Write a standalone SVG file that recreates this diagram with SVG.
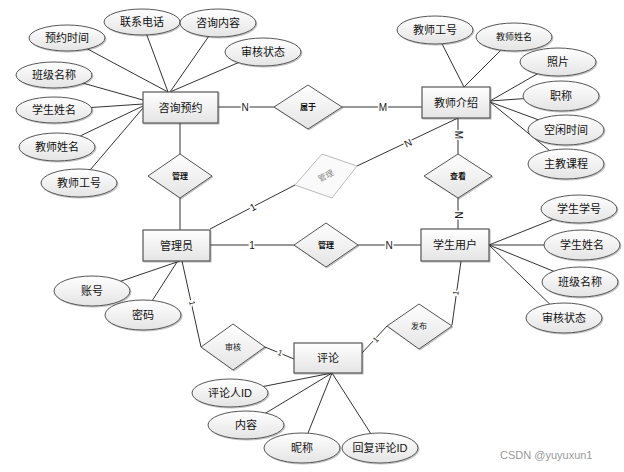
<svg xmlns="http://www.w3.org/2000/svg" width="624" height="472" viewBox="0 0 624 472">
<defs>
<linearGradient id="g" x1="0" y1="0" x2="0" y2="1">
<stop offset="0" stop-color="#ffffff"/>
<stop offset="1" stop-color="#e4e4e4"/>
</linearGradient>
<filter id="sh" x="-10%" y="-10%" width="130%" height="140%">
<feDropShadow dx="1" dy="1" stdDeviation="0.6" flood-color="#000" flood-opacity="0.25"/>
</filter>
</defs>
<style>
.e{fill:url(#g);stroke:#555;stroke-width:1;filter:url(#sh)}
.r{fill:url(#g);stroke:#555;stroke-width:1.2;filter:url(#sh)}
.d{fill:url(#g);stroke:#555;stroke-width:1;filter:url(#sh)}
.dg{fill:#fafafa;stroke:#bbb;stroke-width:1}
.l{stroke:#333;stroke-width:1;fill:none}
.t{font-family:"Liberation Sans","Noto Sans CJK SC",sans-serif;font-size:11px;fill:#111;text-anchor:middle;dominant-baseline:central}
.ts{font-family:"Liberation Sans","Noto Sans CJK SC",sans-serif;font-size:8px;fill:#111;text-anchor:middle;dominant-baseline:central;font-weight:bold}
.c{font-family:"Liberation Sans","Noto Sans CJK SC",sans-serif;font-size:10px;fill:#222;text-anchor:middle;dominant-baseline:central;stroke:#fff;stroke-width:3;paint-order:stroke}
.w{font-family:"Liberation Sans","Noto Sans CJK SC",sans-serif;font-size:11px;fill:#999}
</style>
<g id="connectors">
<line class="l" x1="67" y1="38" x2="168" y2="92"/>
<line class="l" x1="142" y1="22" x2="168" y2="92"/>
<line class="l" x1="218" y1="23" x2="170" y2="92"/>
<line class="l" x1="263" y1="52" x2="170" y2="92"/>
<line class="l" x1="54" y1="75" x2="143" y2="100"/>
<line class="l" x1="54" y1="110" x2="143" y2="104"/>
<line class="l" x1="57" y1="147" x2="143" y2="106"/>
<line class="l" x1="79" y1="183" x2="143" y2="108"/>
<line class="l" x1="218" y1="107" x2="274" y2="107"/>
<line class="l" x1="342" y1="107" x2="422" y2="107"/>
<line class="l" x1="435" y1="30" x2="464" y2="87"/>
<line class="l" x1="514" y1="37" x2="464" y2="87"/>
<line class="l" x1="558" y1="62" x2="490" y2="101"/>
<line class="l" x1="561" y1="96" x2="490" y2="101"/>
<line class="l" x1="566" y1="130" x2="490" y2="102"/>
<line class="l" x1="566" y1="164" x2="490" y2="102"/>
<line class="l" x1="180" y1="123" x2="180" y2="154"/>
<line class="l" x1="180" y1="198" x2="180" y2="230"/>
<line class="l" x1="458" y1="118" x2="458" y2="154"/>
<line class="l" x1="458" y1="198" x2="458" y2="229"/>
<line class="l" x1="210" y1="229" x2="295" y2="185"/>
<line class="l" x1="357" y1="166" x2="458" y2="118"/>
<line class="l" x1="210" y1="245" x2="294" y2="245"/>
<line class="l" x1="358" y1="245" x2="421" y2="245"/>
<line class="l" x1="579" y1="209" x2="489" y2="245"/>
<line class="l" x1="582" y1="245" x2="489" y2="245"/>
<line class="l" x1="580" y1="282" x2="489" y2="245"/>
<line class="l" x1="564" y1="318" x2="489" y2="245"/>
<line class="l" x1="92" y1="291" x2="180" y2="261"/>
<line class="l" x1="143" y1="315" x2="177" y2="262"/>
<line class="l" x1="182" y1="261" x2="201" y2="347"/>
<line class="l" x1="265" y1="347" x2="294" y2="359"/>
<line class="l" x1="461" y1="261" x2="452" y2="325"/>
<line class="l" x1="387" y1="326" x2="362" y2="353"/>
<line class="l" x1="230" y1="393" x2="332" y2="373"/>
<line class="l" x1="246" y1="425" x2="332" y2="373"/>
<line class="l" x1="302" y1="448" x2="332" y2="373"/>
<line class="l" x1="380" y1="448" x2="332" y2="373"/>
<text class="c" x="245" y="107">N</text>
<text class="c" x="383" y="107">M</text>
<text class="c" x="252" y="245">1</text>
<text class="c" x="389" y="245">N</text>
<text class="c" transform="translate(458,135) rotate(90)">M</text>
<text class="c" transform="translate(458,215) rotate(90)">N</text>
<text class="c" transform="translate(253,207) rotate(-27)">1</text>
<text class="c" transform="translate(408,143) rotate(-25)">N</text>
<text class="c" transform="translate(192,303) rotate(77)" style="font-size:8px">1</text>
<text class="c" transform="translate(280,353) rotate(22)" style="font-size:8px">1</text>
<text class="c" transform="translate(376,340) rotate(-47)" style="font-size:8px">1</text>
<text class="c" transform="translate(456,293) rotate(-82)" style="font-size:8px">1</text>
</g>
<g id="n-zixun"><rect class="r" x="143" y="92" width="75" height="31"/><text class="t" x="180.5" y="107.5">咨询预约</text></g>
<g id="n-jiaoshi"><rect class="r" x="422" y="87" width="68" height="31"/><text class="t" x="456" y="102.5">教师介绍</text></g>
<g id="n-guanliyuan"><rect class="r" x="143" y="230" width="67" height="31"/><text class="t" x="176.5" y="245.5">管理员</text></g>
<g id="n-xuesheng"><rect class="r" x="421" y="229" width="68" height="32"/><text class="t" x="455" y="245">学生用户</text></g>
<g id="n-pinglun"><rect class="r" x="294" y="343" width="68" height="30"/><text class="t" x="328" y="358">评论</text></g>
<g id="r-shuyu"><polygon class="d" points="274,107 308,85 342,107 308,129"/><text class="ts" x="308" y="107">属于</text></g>
<g id="r-guanli1"><polygon class="d" points="148,176 180,154 212,176 180,198"/><text class="ts" x="180" y="176">管理</text></g>
<g id="r-chakan"><polygon class="d" points="424,176 458,154 492,176 458,198"/><text class="ts" x="458" y="176">查看</text></g>
<g id="r-guanli2"><polygon class="dg" points="322,154 357,166 332,198 295,185"/><text class="ts" transform="translate(326,176) rotate(-28)" style="fill:#888;font-weight:normal">管理</text></g>
<g id="r-guanli3"><polygon class="d" points="294,245 326,223 358,245 326,267"/><text class="ts" x="326" y="245">管理</text></g>
<g id="r-shenhe"><polygon class="d" points="201,347 233,324 265,347 233,370"/><text class="ts" x="233" y="347" style="font-weight:normal">审核</text></g>
<g id="r-fabu"><polygon class="d" points="387,326 419,304 452,326 419,349"/><text class="ts" x="419" y="326" style="font-weight:normal">发布</text></g>
<g id="a-yuyueshijian"><ellipse class="e" cx="67" cy="38" rx="38" ry="13"/><text class="t" x="67" y="38">预约时间</text></g>
<g id="a-lianxidianhua"><ellipse class="e" cx="142" cy="22" rx="38" ry="13"/><text class="t" x="142" y="22">联系电话</text></g>
<g id="a-zixunneirong"><ellipse class="e" cx="218" cy="23" rx="38" ry="14"/><text class="t" x="218" y="23">咨询内容</text></g>
<g id="a-shenhezhuangtai1"><ellipse class="e" cx="263" cy="52" rx="38" ry="14"/><text class="t" x="263" y="52">审核状态</text></g>
<g id="a-banjimingcheng1"><ellipse class="e" cx="54" cy="75" rx="38" ry="13"/><text class="t" x="54" y="75">班级名称</text></g>
<g id="a-xueshengxingming1"><ellipse class="e" cx="54" cy="110" rx="38" ry="13"/><text class="t" x="54" y="110">学生姓名</text></g>
<g id="a-jiaoshixingming1"><ellipse class="e" cx="57" cy="147" rx="38" ry="14"/><text class="t" x="57" y="147">教师姓名</text></g>
<g id="a-jiaoshigonghao1"><ellipse class="e" cx="79" cy="183" rx="38" ry="14"/><text class="t" x="79" y="183">教师工号</text></g>
<g id="a-jiaoshigonghao2"><ellipse class="e" cx="435" cy="30" rx="38" ry="14"/><text class="t" x="435" y="30">教师工号</text></g>
<g id="a-jiaoshixingming2"><ellipse class="e" cx="514" cy="37" rx="38" ry="14"/><text class="t" x="514" y="37" style="font-size:9px">教师姓名</text></g>
<g id="a-zhaopian"><ellipse class="e" cx="558" cy="62" rx="38" ry="14"/><text class="t" x="558" y="62">照片</text></g>
<g id="a-zhicheng"><ellipse class="e" cx="561" cy="96" rx="38" ry="15"/><text class="t" x="561" y="96">职称</text></g>
<g id="a-kongxianshijian"><ellipse class="e" cx="566" cy="130" rx="38" ry="15"/><text class="t" x="566" y="130">空闲时间</text></g>
<g id="a-zhujiaokecheng"><ellipse class="e" cx="566" cy="164" rx="38" ry="15"/><text class="t" x="566" y="164">主教课程</text></g>
<g id="a-xueshengxuehao"><ellipse class="e" cx="579" cy="209" rx="38" ry="14"/><text class="t" x="579" y="209">学生学号</text></g>
<g id="a-xueshengxingming2"><ellipse class="e" cx="582" cy="245" rx="38" ry="15"/><text class="t" x="582" y="245">学生姓名</text></g>
<g id="a-banjimingcheng2"><ellipse class="e" cx="580" cy="282" rx="38" ry="15"/><text class="t" x="580" y="282">班级名称</text></g>
<g id="a-shenhezhuangtai2"><ellipse class="e" cx="564" cy="318" rx="38" ry="15"/><text class="t" x="564" y="318">审核状态</text></g>
<g id="a-zhanghao"><ellipse class="e" cx="92" cy="291" rx="38" ry="15"/><text class="t" x="92" y="291">账号</text></g>
<g id="a-mima"><ellipse class="e" cx="143" cy="315" rx="38" ry="15"/><text class="t" x="143" y="315">密码</text></g>
<g id="a-pinglunrenid"><ellipse class="e" cx="230" cy="393" rx="38" ry="14"/><text class="t" x="230" y="393">评论人ID</text></g>
<g id="a-neirong"><ellipse class="e" cx="246" cy="425" rx="38" ry="14"/><text class="t" x="246" y="425">内容</text></g>
<g id="a-nicheng"><ellipse class="e" cx="302" cy="448" rx="38" ry="15"/><text class="t" x="302" y="448">昵称</text></g>
<g id="a-huifupinglunid"><ellipse class="e" cx="380" cy="448" rx="38" ry="15"/><text class="t" x="380" y="448">回复评论ID</text></g>
<text class="w" x="500" y="459">CSDN @yuyuxun1</text>
</svg>
